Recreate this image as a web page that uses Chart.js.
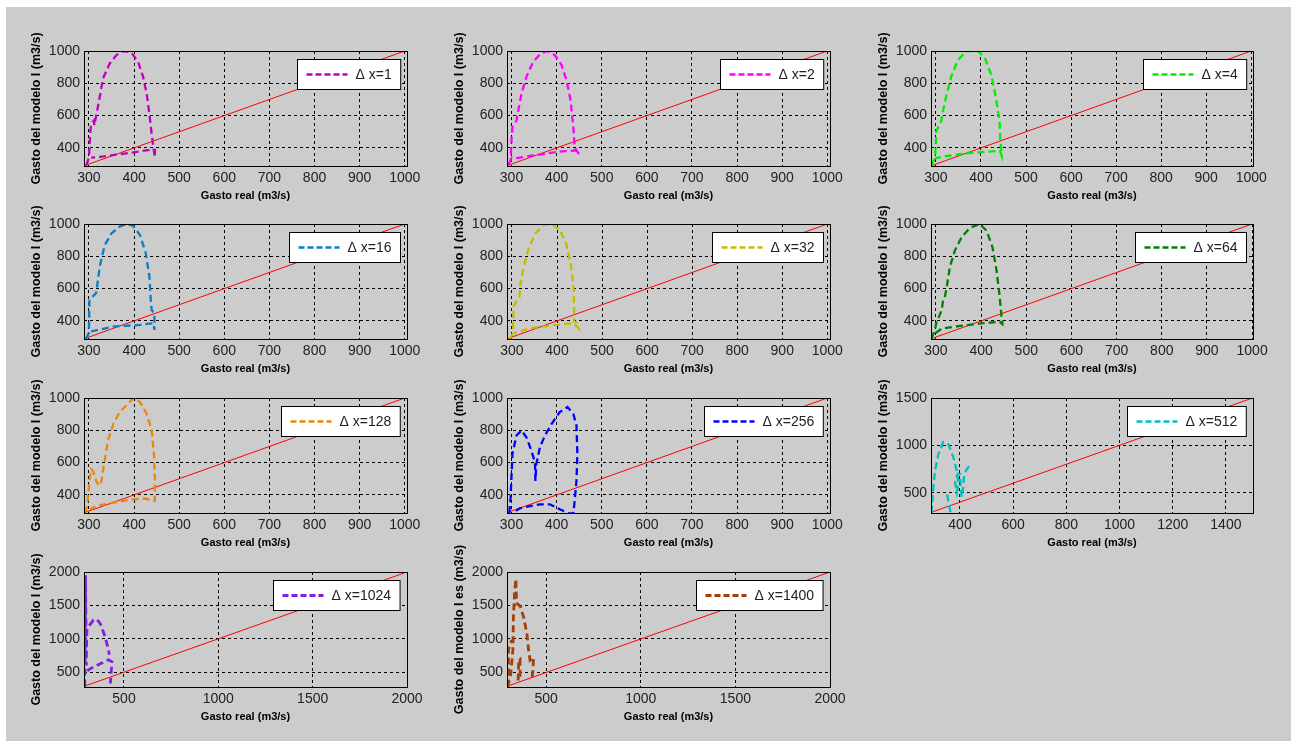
<!DOCTYPE html>
<html>
<head>
<meta charset="utf-8">
<script src="https://cdn.jsdelivr.net/npm/chart.js@4/dist/chart.umd.min.js"></script>
<style>
  html, body { margin: 0; padding: 0; background: #fff; width: 1296px; height: 741px; overflow: hidden; }
  #bg { position: absolute; left: 6px; top: 7px; width: 1285px; height: 734px; background: #cccccc; }
  canvas { position: absolute; }
</style>
</head>
<body>
<div id="bg"></div>
<script>
// legend labels
const labels = ['Δ x=1', 'Δ x=2', 'Δ x=4', 'Δ x=16', 'Δ x=32', 'Δ x=64', 'Δ x=128', 'Δ x=256', 'Δ x=512', 'Δ x=1024', 'Δ x=1400']

// gasto real (x) / gasto del modelo (y)
const real1 = [294, 300, 302, 304, 308, 311, 312, 316, 324, 331, 346, 361, 377, 394, 409, 420, 428, 434, 439, 443, 446, 446, 430, 398, 360, 324, 305]
const model1 = [292, 340, 450, 530, 560, 570, 540, 600, 715, 829, 923, 975, 1000, 990, 933, 840, 735, 610, 485, 402, 340, 388, 386, 372, 358, 344, 340]

const real2 = [293, 298, 300, 302, 311, 315, 322, 333, 348, 363, 378, 396, 411, 422, 431, 437, 440, 450, 444, 407, 341, 307, 298]
const model2 = [294, 323, 450, 527, 569, 631, 735, 840, 933, 979, 1000, 975, 913, 819, 694, 527, 402, 360, 385, 377, 350, 335, 340]

const real4 = [290, 298, 301, 305, 312, 316, 324, 335, 349, 368, 394, 409, 423, 433, 441, 443, 446, 446, 442, 413, 368, 316, 298]
const model4 = [294, 340, 506, 527, 569, 631, 735, 850, 944, 1000, 1000, 954, 850, 715, 569, 444, 371, 350, 381, 377, 367, 346, 335]

const real16 = [293, 300, 301, 309, 316, 318, 324, 335, 350, 368, 383, 398, 413, 426, 434, 437, 439, 445, 445, 443, 413, 353, 320, 301]
const model16 = [289, 326, 532, 553, 573, 614, 738, 870, 942, 984, 1000, 988, 932, 819, 674, 530, 467, 446, 344, 386, 375, 365, 344, 334]

const real32 = [295, 302, 304, 311, 317, 318, 326, 337, 352, 370, 387, 406, 420, 431, 437, 438, 438, 444, 448, 437, 400, 348, 315, 304]
const model32 = [287, 324, 489, 530, 551, 612, 736, 849, 942, 994, 1000, 967, 880, 746, 592, 489, 396, 390, 355, 386, 375, 359, 334, 324]

const real64 = [290, 298, 301, 309, 313, 316, 320, 324, 331, 342, 357, 375, 397, 412, 425, 434, 441, 445, 447, 447, 441, 405, 353, 313, 301, 298]
const model64 = [290, 349, 390, 441, 471, 532, 553, 614, 736, 837, 919, 976, 1000, 959, 858, 715, 553, 431, 390, 380, 394, 386, 369, 353, 329, 308]

const real128 = [293, 296, 298, 302, 305, 309, 316, 322, 328, 331, 335, 342, 354, 368, 387, 398, 413, 428, 439, 444, 446, 446, 439, 428, 398, 354, 316, 302]
const model128 = [288, 342, 394, 508, 560, 549, 487, 456, 487, 549, 611, 736, 840, 913, 965, 1000, 975, 902, 799, 653, 508, 363, 363, 377, 373, 352, 331, 310]

const real256 = [295, 298, 302, 311, 322, 333, 344, 352, 353, 355, 363, 374, 389, 407, 424, 437, 444, 446, 444, 440, 437, 426, 407, 385, 363, 341, 318, 304]
const model256 = [288, 383, 653, 768, 799, 757, 674, 601, 487, 591, 695, 768, 840, 913, 944, 902, 830, 653, 487, 363, 286, 286, 311, 342, 342, 331, 317, 290]

const real512 = [293, 296, 300, 306, 319, 337, 356, 375, 388, 394, 388, 381, 392, 400, 406, 412, 415, 422, 431, 440, 440, 352, 358, 365]
const model512 = [285, 420, 560, 732, 908, 1035, 1013, 873, 732, 591, 504, 627, 700, 697, 451, 556, 662, 732, 767, 785, null, 480, 380, 285]

const real1024 = [292, 294, 296, 298, 300, 302, 304, 311, 338, 356, 374, 400, 418, 422, 422, 305, 320, 374, 418, 436, 432, 428]
const model1024 = [285, 900, 1950, 1300, 600, 1000, 1150, 1180, 1280, 1290, 1230, 1030, 830, 760, null, 520, 550, 626, 686, 655, 500, 330]

const real1400 = [296, 301, 313, 324, 327, 333, 340, 342, 345, 363, 380, 398, 407, 415, 424, 433, 430, 424, 424, 300, 301, 318, 318, 352, 355, 362, 362]
const model1400 = [285, 335, 485, 835, 1335, 1685, 1895, 1650, 1535, 1485, 1335, 1085, 835, 685, 710, 725, 535, 385, null, 290, 850, 985, null, 380, 690, 700, 400]

// axis limits and ticks
const xMins = [289, 290, 289, 289, 289, 289, 289, 290, 291, 288, 293]
const xMaxs = [1005, 1006, 1004, 1005, 1006, 1002, 1005, 1006, 1502, 2000, 2000]
const yMins = [288, 288, 288, 288, 288, 288, 288, 288, 285, 278, 283]
const yMaxs = [1000, 1000, 1000, 1000, 1000, 1000, 1000, 1000, 1500, 2000, 2000]

const xTicksSmall = [300, 400, 500, 600, 700, 800, 900, 1000]
const yTicksSmall = [400, 600, 800, 1000]
const xTicks512 = [400, 600, 800, 1000, 1200, 1400]
const yTicks512 = [500, 1000, 1500]
const xTicksBig = [500, 1000, 1500, 2000]
const yTicksBig = [500, 1000, 1500, 2000]

const yTitle = 'Gasto del modelo I (m3/s)'
const yTitle1400 = 'Gasto del modelo I es (m3/s)'
const xTitle = 'Gasto real (m3/s)'

const series = [
  [real1, model1], [real2, model2], [real4, model4], [real16, model16],
  [real32, model32], [real64, model64], [real128, model128], [real256, model256],
  [real512, model512], [real1024, model1024], [real1400, model1400],
]
const colors = ['#c000c0', '#ff00ff', '#00ee00', '#0a7fc8', '#bfbf00', '#008000', '#e8890c', '#0000ff', '#00bfbf', '#7f1fe6', '#a33f08']
const xTickSets = [0, 0, 0, 0, 0, 0, 0, 0, 1, 2, 2].map(i => [xTicksSmall, xTicks512, xTicksBig][i])
const yTickSets = [0, 0, 0, 0, 0, 0, 0, 0, 1, 2, 2].map(i => [yTicksSmall, yTicks512, yTicksBig][i])

// plot-area boxes on the page
const colLeft = [84, 507, 931]
const colWidth = [323, 323, 322]
const rowTop = [51, 224, 398, 572]
const plotH = 115

const ML = 84, MT = 30, MR = 20, MB = 50
const FONT = '"Liberation Sans", Arial, sans-serif'

const decor = {
  id: 'decor',
  afterDraw(chart, args, opts) {
    const { ctx, chartArea: a } = chart
    ctx.save()
    // box
    ctx.strokeStyle = '#000'
    ctx.lineWidth = 1
    ctx.setLineDash([])
    ctx.strokeRect(Math.round(a.left) + 0.5, Math.round(a.top) + 0.5, Math.round(a.right - a.left), Math.round(a.bottom - a.top))
    // axis titles
    ctx.fillStyle = '#000'
    ctx.textAlign = 'center'
    ctx.textBaseline = 'middle'
    ctx.font = 'bold 11px ' + FONT
    ctx.fillText(xTitle, (a.left + a.right) / 2, a.bottom + 30)
    ctx.save()
    ctx.translate(a.left - 47, (a.top + a.bottom) / 2)
    ctx.rotate(-Math.PI / 2)
    ctx.font = 'bold 12.5px ' + FONT
    ctx.fillText(opts.yTitle, 0, 0)
    ctx.restore()
    // legend
    ctx.font = '14px ' + FONT
    const tw = ctx.measureText(opts.label).width
    const w = 9 + 41 + 8 + tw + 9, h = 30
    const bx = Math.round(a.right - 7 - w) + 0.5, by = Math.round(a.top + 8) + 0.5
    ctx.fillStyle = '#fff'
    ctx.fillRect(bx, by, w, h)
    ctx.strokeStyle = '#000'
    ctx.strokeRect(bx, by, w, h)
    ctx.strokeStyle = opts.color
    ctx.lineWidth = opts.width + 0.3
    ctx.setLineDash([6, 3])
    ctx.beginPath()
    ctx.moveTo(bx + 9, by + h / 2)
    ctx.lineTo(bx + 50, by + h / 2)
    ctx.stroke()
    ctx.setLineDash([])
    ctx.fillStyle = '#222'
    ctx.textAlign = 'left'
    ctx.fillText(opts.label, bx + 58, by + h / 2 + 1)
    ctx.restore()
  },
}

labels.forEach((label, i) => {
  const col = i % 3, row = Math.floor(i / 3)
  const L = colLeft[col], T = rowTop[row], W = colWidth[col]
  const cv = document.createElement('canvas')
  cv.width = W + ML + MR
  cv.height = plotH + MT + MB
  cv.style.left = (L - ML) + 'px'
  cv.style.top = (T - MT) + 'px'
  cv.style.width = cv.width + 'px'
  cv.style.height = cv.height + 'px'
  document.body.appendChild(cv)

  const [xs, ys] = series[i]
  const curve = xs.map((x, k) => ({ x: x, y: ys[k] }))
  const diag = [{ x: xMins[i], y: xMins[i] }, { x: xMaxs[i], y: xMaxs[i] }]
  const lw = i >= 9 ? 2.8 : 2.3

  new Chart(cv, {
    type: 'scatter',
    data: {
      datasets: [
        { data: curve, showLine: true, borderColor: colors[i], borderWidth: lw, borderDash: [7, 4], pointRadius: 0, spanGaps: false },
        { data: diag, showLine: true, borderColor: '#ff0000', borderWidth: 1, pointRadius: 0 },
      ],
    },
    options: {
      responsive: false,
      animation: false,
      events: [],
      layout: { padding: { left: 0, top: MT, right: MR, bottom: 0 } },
      scales: {
        x: {
          type: 'linear', min: xMins[i], max: xMaxs[i],
          afterBuildTicks: s => { s.ticks = xTickSets[i].map(v => ({ value: v })) },
          afterFit: s => { s.height = MB },
          ticks: { autoSkip: false, maxRotation: 0, padding: 4, color: '#222', font: { family: FONT, size: 14 }, callback: v => String(v) },
          grid: { color: '#000', lineWidth: 1, drawTicks: false },
          border: { display: false, dash: [3, 3] },
        },
        y: {
          type: 'linear', min: yMins[i], max: yMaxs[i],
          afterBuildTicks: s => { s.ticks = yTickSets[i].map(v => ({ value: v })) },
          afterFit: s => { s.width = ML },
          ticks: { autoSkip: false, padding: 4, color: '#222', font: { family: FONT, size: 14 }, callback: v => String(v) },
          grid: { color: '#000', lineWidth: 1, drawTicks: false },
          border: { display: false, dash: [3, 3] },
        },
      },
      plugins: {
        legend: { display: false },
        tooltip: { enabled: false },
        decor: { label: label, color: colors[i], width: lw, yTitle: i === 10 ? yTitle1400 : yTitle },
      },
    },
    plugins: [decor],
  })
})
</script>
</body>
</html>
